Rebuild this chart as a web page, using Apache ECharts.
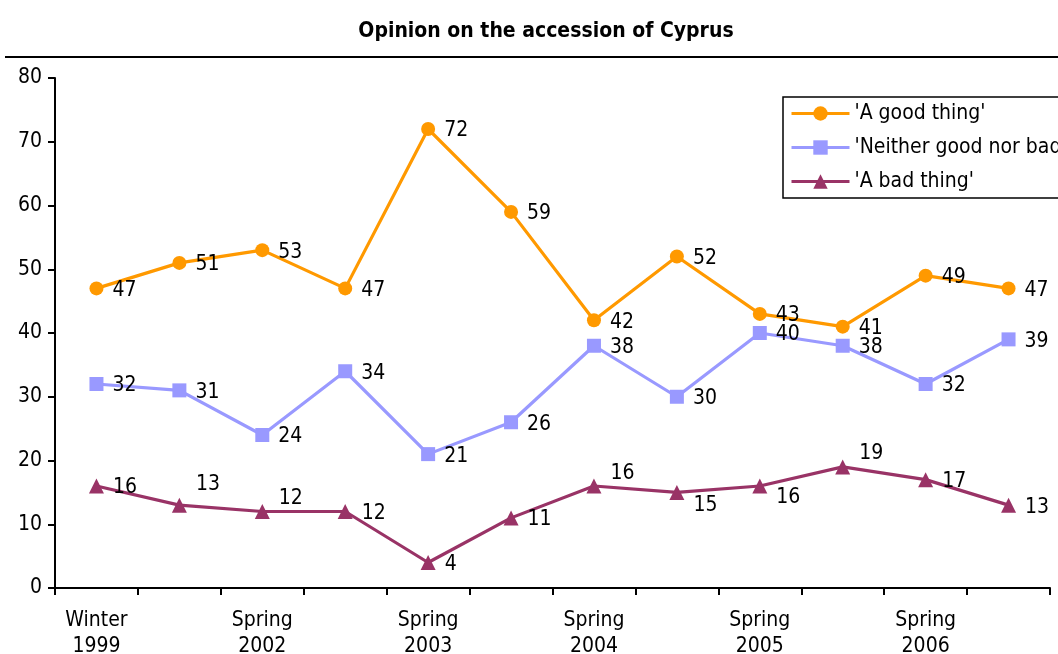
<!DOCTYPE html>
<html>
<head>
<meta charset="utf-8">
<script src="https://cdn.jsdelivr.net/npm/echarts@6/dist/echarts.min.js"></script>
<style>html,body{margin:0;padding:0;background:#fff;}#c{width:1058px;height:654px;}</style>
</head>
<body>
<div id="c"></div>
<script>
const categories = ['Winter\n1999', '', 'Spring\n2002', '', 'Spring\n2003', '', 'Spring\n2004', '', 'Spring\n2005', '', 'Spring\n2006', ''];
const goodThing = [47, 51, 53, 47, 72, 59, 42, 52, 43, 41, 49, 47];
const neither = [32, 31, 24, 34, 21, 26, 38, 30, 40, 38, 32, 39];
const badThing = [16, 13, 12, 12, 4, 11, 16, 15, 16, 19, 17, 13];
const yTicks = [0, 10, 20, 30, 40, 50, 60, 70, 80];

const FONT = '"DejaVu Sans Condensed", "DejaVu Sans", sans-serif';
const chart = echarts.init(document.getElementById('c'));

// label vertical shifts (label placement only) for the bad-thing series
const badShift = {1: -21, 2: -13, 6: -12, 7: 13, 8: 12, 9: -13};

function mkSeries(name, values, color, symbol, size, shifts) {
  return {
    name: name,
    type: 'line',
    data: values.map((v, i) => {
      const d = {value: v};
      if (shifts && shifts[i] !== undefined) d.label = {offset: [0, shifts[i]]};
      return d;
    }),
    symbol: symbol,
    symbolSize: size,
    itemStyle: {color: color},
    lineStyle: {color: color, width: 3.2},
    label: {show: true, position: 'right', distance: 9, offset: [0, 2], color: '#000', fontFamily: FONT, fontSize: 21},
    animation: false,
    z: 3
  };
}

chart.setOption({
  animation: false,
  title: {
    text: 'Opinion on the accession of Cyprus',
    left: 541, top: 16, textAlign: 'center',
    textStyle: {fontFamily: FONT, fontWeight: 'bold', fontSize: 21, color: '#000'}
  },
  graphic: [{
    type: 'line', shape: {x1: 5, y1: 57, x2: 1058, y2: 57},
    style: {stroke: '#000', lineWidth: 2}
  }],
  legend: {
    left: 783, top: 97,
    orient: 'vertical',
    itemWidth: 58, itemHeight: 18, itemGap: 13,
    padding: [6, 8, 6, 7],
    borderColor: '#000', borderWidth: 1.5,
    backgroundColor: '#fff',
    lineStyle: {width: 3},
    textStyle: {fontFamily: FONT, fontSize: 21, color: '#000'},
    data: ["'A good thing'", "'Neither good nor bad'", "'A bad thing'"]
  },
  grid: {left: 55, right: 8, top: 78, bottom: 66, containLabel: false, outerBoundsMode: 'none'},
  xAxis: {
    type: 'category', data: categories, boundaryGap: true,
    axisLine: {lineStyle: {color: '#000', width: 2}},
    axisTick: {show: true, interval: 0, length: 7, lineStyle: {color: '#000', width: 2}},
    axisLabel: {interval: 0, color: '#000', fontFamily: FONT, fontSize: 21, margin: 20, lineHeight: 26}
  },
  yAxis: {
    type: 'value', min: yTicks[0], max: yTicks[yTicks.length - 1], interval: 10,
    axisLine: {show: true, lineStyle: {color: '#000', width: 2}},
    axisTick: {show: true, length: 7, lineStyle: {color: '#000', width: 2}},
    splitLine: {show: false},
    axisLabel: {color: '#000', fontFamily: FONT, fontSize: 21, margin: 13}
  },
  series: [
    mkSeries("'A good thing'", goodThing, '#FF9900', 'circle', 14, null),
    mkSeries("'Neither good nor bad'", neither, '#9999FF', 'rect', 14, null),
    mkSeries("'A bad thing'", badThing, '#993366', 'triangle', 15, badShift)
  ]
});
</script>
</body>
</html>
